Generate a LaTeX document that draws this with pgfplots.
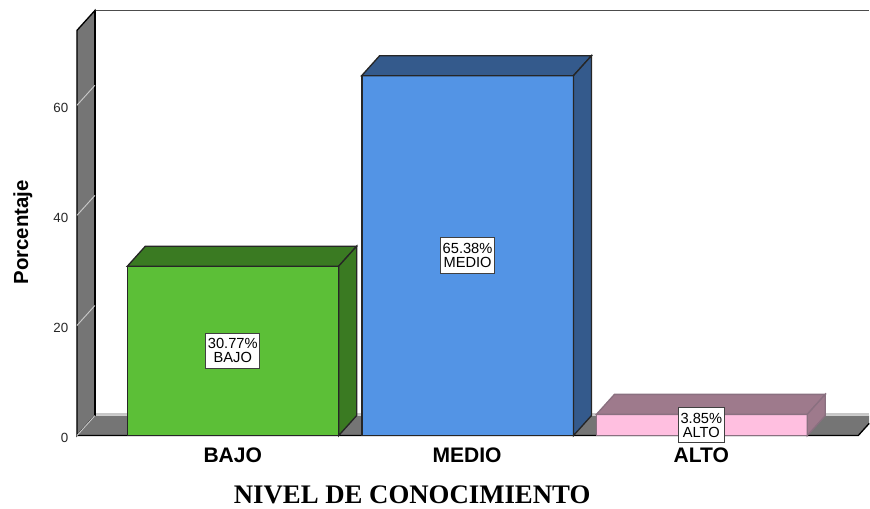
\documentclass[border=0pt]{standalone}
\usepackage{pgfplots}
\pgfplotsset{compat=1.18}
\usepackage{fontspec}
\setmainfont{Liberation Sans}
\newfontfamily\timesfont{Liberation Serif}
\definecolor{wall}{HTML}{757575}
\definecolor{wallline}{HTML}{C8C8C8}
\definecolor{greenf}{HTML}{5CBF37}
\definecolor{greend}{HTML}{3A7A22}
\definecolor{bluef}{HTML}{5394E5}
\definecolor{blued}{HTML}{345A8C}
\definecolor{pinkf}{HTML}{FFBFE0}
\definecolor{pinkd}{HTML}{9E7A8C}
\definecolor{pinke}{HTML}{8A7080}
\tikzset{vallabel/.style={draw=black!75,fill=white,line width=0.8pt,align=center,
  font=\fontsize{11}{10.5}\selectfont,inner xsep=1.5pt,inner ysep=4.2pt}}
\begin{document}
\begin{tikzpicture}
\begin{axis}[
    scale only axis,
    width=594.75pt,
    height=326.6pt,
    xmin=77, xmax=870,
    ymin=0, ymax=79.04,
    clip=false,
    axis line style={draw=none},
    major tick length=0pt,
    ytick={0,20,40,60},
    xtick={233,467.5,702},
    xticklabels={BAJO,MEDIO,ALTO},
    /pgf/number format/assume math mode=true,
    yticklabel style={font=\fontsize{10}{12}\selectfont,text=black!85,xshift=-3pt,yshift=-2pt},
    xticklabel style={font=\bfseries\fontsize{15.8}{18}\selectfont,yshift=-6pt},
    xlabel={\timesfont\bfseries NIVEL DE CONOCIMIENTO},
    ylabel={\bfseries Porcentaje},
    every axis x label/.append style={at={(axis cs:412.5,-10.8)},anchor=center,font=\fontsize{20.1}{24}\selectfont},
    every axis y label/.append style={at={(axis cs:23,36.9)},anchor=center,rotate=0,font=\fontsize{15.3}{18}\selectfont},
]
% page extent of the 870x508 picture
\path (axis cs:0,-13.07) rectangle (axis cs:870,79.13);

% back edge and top line
\addplot[line width=1.2pt,draw=black!70] coordinates {(95,77.22) (870,77.22)};
% left wall
\addplot[fill=wall,draw=black,line width=1pt] coordinates {(77,0) (95,3.63) (95,77.22) (77,73.6)} --cycle;
% floor
\addplot[fill=wall,draw=none] coordinates {(77,0) (859,0) (870,2.21) (870,3.63) (95,3.63)} --cycle;
\addplot[line width=1pt,draw=wallline] coordinates {(95,3.9) (870,3.9)};
\addplot[line width=1pt,draw=black] coordinates {(77,0) (859,0) (870,2.21)};
\addplot[line width=1pt,draw=black] coordinates {(95,3.63) (95,77.22)};
% wall lines
\addplot[line width=0.7pt,draw=wallline] coordinates {(77,0) (95,3.63)};
\addplot[line width=0.7pt,draw=wallline] coordinates {(77,20) (95,23.63)};
\addplot[line width=0.7pt,draw=wallline] coordinates {(77,40) (95,43.63)};
\addplot[line width=0.7pt,draw=wallline] coordinates {(77,60) (95,63.63)};

% BAJO
\addplot[ybar,bar shift=0pt,bar width=158.6pt,fill=greenf,draw=black!85,line width=1pt] coordinates {(233.25,30.77)};
\addplot[fill=greend,draw=black!85,line width=1pt] coordinates {(127.5,30.77) (145.5,34.4) (357,34.4) (339,30.77)} --cycle;
\addplot[fill=greend,draw=black!85,line width=1pt] coordinates {(339,0) (357,3.63) (357,34.4) (339,30.77)} --cycle;
% MEDIO
\addplot[ybar,bar shift=0pt,bar width=158.6pt,fill=bluef,draw=black!85,line width=1pt] coordinates {(468,65.38)};
\addplot[fill=blued,draw=black!85,line width=1pt] coordinates {(362,65.38) (380,69.01) (592,69.01) (574,65.38)} --cycle;
\addplot[fill=blued,draw=black!85,line width=1pt] coordinates {(574,0) (592,3.63) (592,69.01) (574,65.38)} --cycle;
% ALTO
\addplot[ybar,bar shift=0pt,bar width=158.6pt,fill=pinkf,draw=pinke,line width=1pt] coordinates {(702.5,3.85)};
\addplot[fill=pinkd,draw=pinke,line width=1pt] coordinates {(597,3.85) (615,7.48) (826,7.48) (808,3.85)} --cycle;
\addplot[fill=pinkd,draw=pinke,line width=1pt] coordinates {(808,0) (826,3.63) (826,7.48) (808,3.85)} --cycle;

\node[vallabel] at (axis cs:233,15.38) {30.77\%\\BAJO};
\node[vallabel] at (axis cs:468,32.69) {65.38\%\\MEDIO};
\node[vallabel] at (axis cs:702,1.92) {3.85\%\\ALTO};
\end{axis}
\end{tikzpicture}
\end{document}
